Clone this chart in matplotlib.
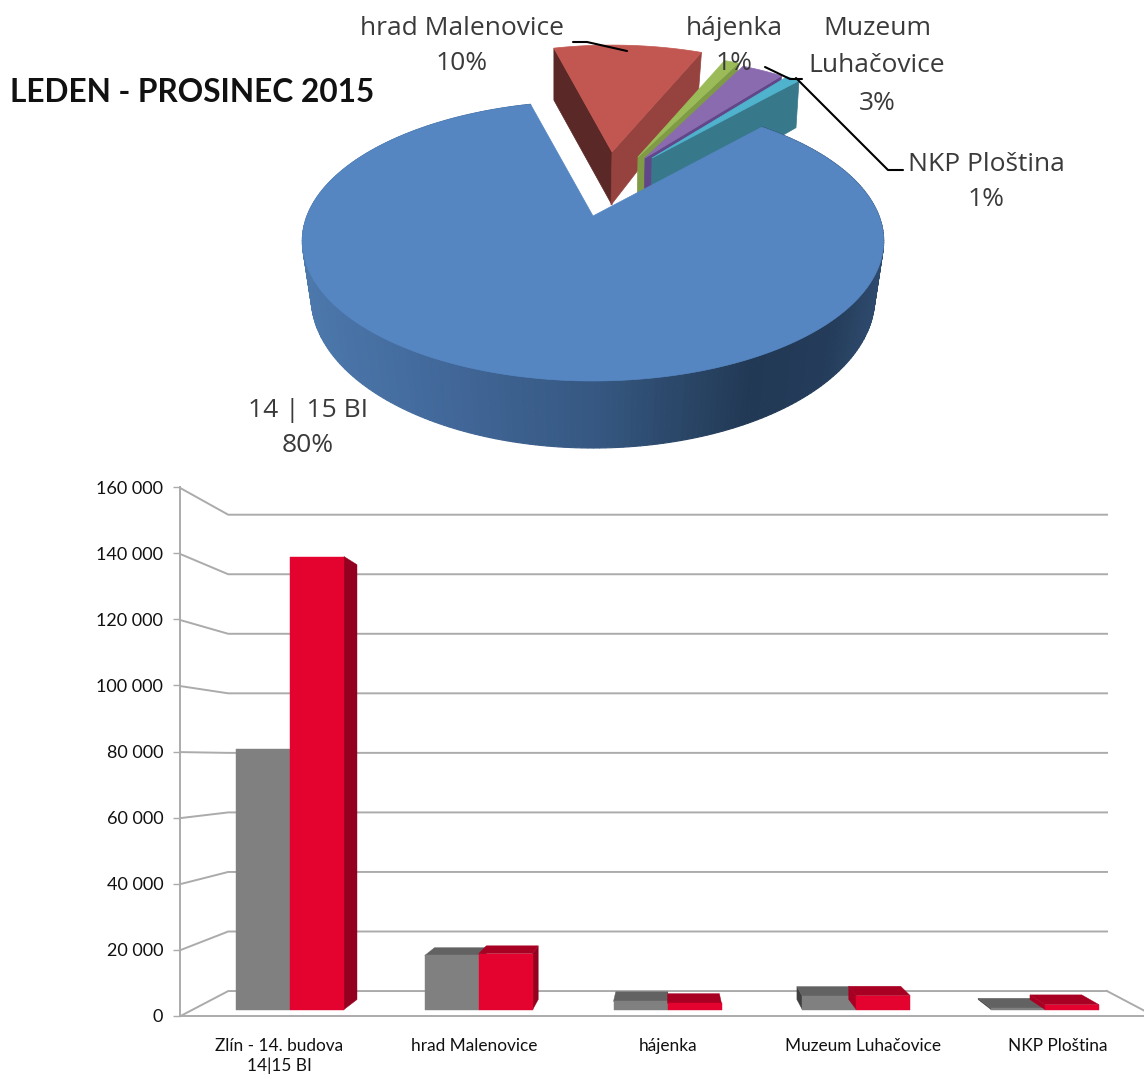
import numpy as np
import matplotlib
matplotlib.use("Agg")
import matplotlib.pyplot as plt

# ---------- data ----------
pie_names = ["14 | 15 BI", "hrad Malenovice", "hájenka", "Muzeum\nLuhačovice", "NKP Ploština"]
pie_percent = [80, 10, 1, 3, 1]
categories = ["Zlín - 14. budova\n14|15 BI", "hrad Malenovice", "hájenka", "Muzeum Luhačovice", "NKP Ploština"]
series_gray = [80900, 16800, 2500, 4200, 400]
series_red = [140900, 17400, 1900, 4300, 1500]
y_ticks = [0, 20000, 40000, 60000, 80000, 100000, 120000, 140000, 160000]
y_tick_labels = ["0", "20 000", "40 000", "60 000", "80 000", "100 000", "120 000", "140 000", "160 000"]
title = "LEDEN - PROSINEC 2015"

W, H = 1144, 1079
BAR_FONT = "Lato"
PIE_FONT = "Open Sans"
fig = plt.figure(figsize=(W / 100, H / 100), dpi=100, facecolor="white")

# ---------- pie (perspective disc, angles computed from the values) ----------
ax_pie = fig.add_axes([0, 0, 1, 1])
ax_pie.set_xlim(0, W)
ax_pie.set_ylim(H, 0)
ax_pie.axis("off")

CX, CY = 593, 216
def top_pt(t, cx=CX, cy=CY, scale=1.0):
    t = np.radians(t)
    Y = np.cos(t)
    d = 1 + 0.1786 * Y
    return cx + scale * 286 * np.sin(t) / d, cy - scale * 135.5 * Y / d

def bot_pt(t, cx=CX, cy=CY + 57, scale=1.0):
    t = np.radians(t)
    Y = np.cos(t)
    d = 1 + 0.163 * Y
    return cx + scale * 278 * np.sin(t) / d, cy - scale * 146.5 * Y / d

sweeps = 360 * np.array(pie_percent) / np.sum(pie_percent)
starts = 42 + np.concatenate([[0], np.cumsum(sweeps)[:-1]])

top_cols = ["#5586C2", "#C25751", "#9BBB59", "#8A6BB0", "#4FB3CE"]
right_cols = [None, "#96423E", "#7F9B45", "#62468A", "#37788A"]
left_cols = [None, "#5A2826", None, None, None]
offsets = [None, (19, -64), (45, -59), (52, -58), (59, -58)]
out_scales = [None, 0.93, 0.90, 0.88, 0.87]
rim_depths = [None, 40, 42, 44, 47]
DEPTH = 52

# exploded slices, back to front
for i in range(1, len(sweeps)):
    a0, a1 = starts[i], starts[i] + sweeps[i]
    vx, vy = CX + offsets[i][0], CY + offsets[i][1]
    ts = np.linspace(a0, a1, 24)
    xs, ys = top_pt(ts, vx, vy, out_scales[i])
    x0, y0 = xs[0], ys[0]
    x1, y1 = xs[-1], ys[-1]
    if left_cols[i]:
        ax_pie.fill([vx, x0, x0, vx], [vy, y0, y0 + DEPTH, vy + 53], color=left_cols[i], lw=0.5)
    ax_pie.fill([vx, x1, x1 - 3, vx - 1], [vy, y1, y1 + rim_depths[i], vy + 53], color=right_cols[i], lw=0.5)
    ax_pie.fill(np.r_[vx, xs], np.r_[vy, ys], color=top_cols[i], lw=0.5)

# main slice: side stripes with the shaded gradient, then the top face
grad_x = [303, 440, 600, 750, 830, 884]
grad_c = np.array([[0x4C, 0x78, 0xAC], [0x42, 0x68, 0x9A], [0x35, 0x57, 0x80],
                   [0x22, 0x39, 0x55], [0x24, 0x3C, 0x5A], [0x2E, 0x4B, 0x6E]]) / 255
ts = np.linspace(starts[0], starts[0] + sweeps[0], 300)
tx, ty = top_pt(ts)
bx, by = bot_pt(ts)
for j in range(len(ts) - 1):
    xm = (tx[j] + tx[j + 1]) / 2
    col = [np.interp(xm, grad_x, grad_c[:, k]) for k in range(3)]
    ax_pie.fill([tx[j], tx[j + 1], bx[j + 1], bx[j]], [ty[j], ty[j + 1], by[j + 1], by[j]],
                color=col, lw=0.8)
ax_pie.fill(np.r_[CX, tx], np.r_[CY, ty], color=top_cols[0], lw=0.5)

# leader lines
for lx, ly in [([573, 587, 627], [42, 42, 51]),
               ([765, 790, 802], [67, 79, 79]),
               ([796, 888, 903], [78, 170, 170])]:
    ax_pie.plot(lx, ly, color="black", lw=1.5, solid_capstyle="round")

pie_font = dict(family=PIE_FONT, fontsize=19, color="#3A3A3A", ha="center", va="center")
label_pos = [(308, 428), (462, 46), (734, 46), (877, 66), (986, 182)]
label_spacing = [1.52, 1.52, 1.52, 1.65, 1.52]
for name, pct, (lx, ly), sp in zip(pie_names, pie_percent, label_pos, label_spacing):
    ax_pie.text(lx, ly, f"{name}\n{pct}%", linespacing=sp, **pie_font)

ax_pie.text(10, 93, title, family="Lato", fontweight="bold", fontsize=22.8, color="#111111",
            ha="left", va="center")

# ---------- 3-D bar chart ----------
X0, DX, Y0, SY = 290.0, 188.75, 1009.5, 3.215 / 1000
ax_bar = fig.add_axes([0, 0, 1, 1])
ax_bar.patch.set_alpha(0)
ax_bar.set_xlim(-X0 / DX, (W - X0) / DX)
ax_bar.set_ylim((Y0 - H) / SY, Y0 / SY)
ax_bar.axis("off")

VPX, VPY = 2.008, 77600.0
F_FRONT, F_BACK, F_BAR = -0.026, 0.074, 0.04
XL, XR = -0.514, 4.514

def proj(x, v, f):
    return x + f * (VPX - x), v + f * (VPY - v)

grid_col = "#ABABAB"
for v in y_ticks:
    xa, ya = proj(XL, v, F_FRONT)
    xb, yb = proj(XL, v, F_BACK)
    xc, yc = proj(XR, v, F_BACK)
    ax_bar.plot([xa, xb, xc], [ya, yb, yc], color=grid_col, lw=1.4, zorder=1)
xa, ya = proj(XR, 0, F_BACK)
xb, yb = proj(XR, 0, F_FRONT)
ax_bar.plot([xa, xb], [ya, yb], color=grid_col, lw=1.4, zorder=1)

def poly(pts, col, z=3):
    ax_bar.fill([p[0] for p in pts], [p[1] for p in pts], color=col, lw=0.3, zorder=z)

def draw_bar(xl, xr, v, front, top, left_side, right_side):
    a, b = proj(xl, v, 0), proj(xr, v, 0)
    c, d = proj(xr, v, F_BAR), proj(xl, v, F_BAR)
    if xl > VPX:
        poly([a, d, proj(xl, 0, F_BAR), proj(xl, 0, 0)], left_side)
    if xr < VPX:
        poly([b, c, proj(xr, 0, F_BAR), proj(xr, 0, 0)], right_side)
    if v < VPY:
        poly([a, b, c, d], top)
    poly([proj(xl, 0, 0), proj(xr, 0, 0), b, a], front)

BW = 54 / DX
for i, (g, r) in enumerate(zip(series_gray, series_red)):
    draw_bar(i - BW, i, g, "#808080", "#626262", "#3F3F3F", "#3F3F3F")
    draw_bar(i, i + BW, r, "#E4032E", "#A80022", "#A80022", "#94001F")

# front axis with the real ticks and labels
ax_wall = fig.add_axes([180 / W, (H - 1016) / H, (W - 180) / W, (1016 - 487) / H])
ax_wall.patch.set_alpha(0)
ax_wall.set_xlim((180 - 279) / 194.75, (W - 279) / 194.75)
ax_wall.set_ylim(0, 160000)
for s in ("top", "right"):
    ax_wall.spines[s].set_visible(False)
for s in ("left", "bottom"):
    ax_wall.spines[s].set_color(grid_col)
    ax_wall.spines[s].set_linewidth(1.4)
ax_wall.set_yticks(y_ticks, y_tick_labels, family=BAR_FONT, fontsize=13, color="#111111")
ax_wall.set_xticks(range(len(categories)), categories, family=BAR_FONT, fontsize=12.4, color="#111111",
                   linespacing=1.22)
ax_wall.tick_params(axis="y", length=5, width=1.0, color=grid_col, pad=7)
ax_wall.tick_params(axis="x", length=0, pad=16)

fig.savefig("out.png", dpi=100)
